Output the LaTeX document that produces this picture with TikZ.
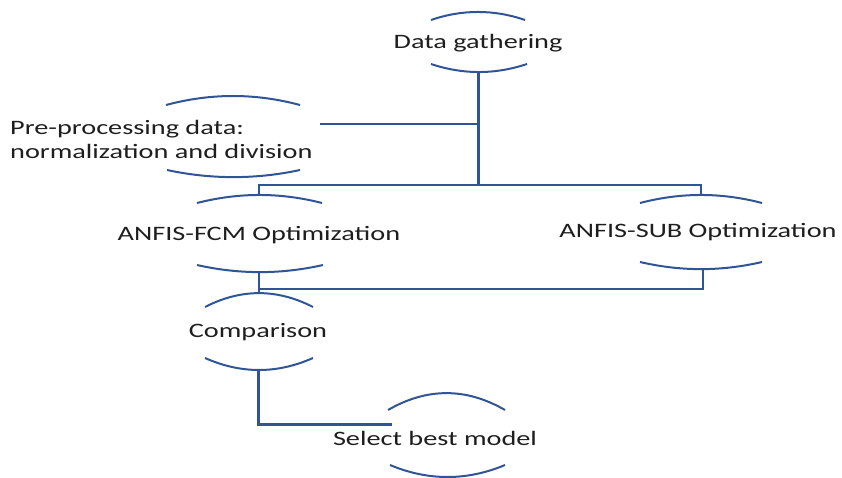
\documentclass[tikz,border=0pt]{standalone}
\usepackage{fontspec}
\newfontfamily\labfont[FakeStretch=1.38]{Carlito}
\definecolor{lineblue}{RGB}{47,85,151}
\definecolor{txt}{RGB}{30,30,30}
\begin{document}
\begin{tikzpicture}[x=1pt,y=-1pt,
  lbl/.style={inner sep=0pt,text=txt,font=\labfont\fontsize{20.5}{24}\selectfont},
  arcline/.style={draw=lineblue,line width=2pt},
  conn/.style={draw=lineblue,line width=2.2pt},
  trunk/.style={draw=lineblue,line width=3pt}]
\useasboundingbox (0,0) rectangle (842,478);
\clip (0,0) rectangle (842,478);
% nodes (text)
\node[lbl] (dg) at (478,43) {Data gathering};
\node[lbl,align=left,anchor=west] (pp) at (10,139) {Pre-processing data:\\ normalization and division};
\node[lbl] (fcm) at (259,235) {ANFIS-FCM Optimization};
\node[lbl] (sub) at (698,232) {ANFIS-SUB Optimization};
\node[lbl] (cmp) at (258,332) {Comparison};
\node[lbl] (sel) at (435,438) {Select best model};
% arcs (top: ends, apex above; bottom: ends, apex below)
% Data gathering
\draw[arcline] (431,20) .. controls +(31,-10.7) and +(-31,-10.7) .. (525,20);
\draw[arcline] (431,64) .. controls +(32,10.7) and +(-32,10.7) .. (527,64);
\coordinate (dgb) at (478,72);
% Pre-processing
\draw[arcline] (166,105) .. controls +(45,-12) and +(-45,-12) .. (300,105);
\draw[arcline] (167,170) .. controls +(44,9.5) and +(-44,9.5) .. (300,170);
\coordinate (ppr) at (320,124);
% ANFIS-FCM
\draw[arcline] (197,203) .. controls +(42,-10.7) and +(-42,-10.7) .. (322,203);
\draw[arcline] (197,265) .. controls +(42,9.5) and +(-42,9.5) .. (323,265);
\coordinate (fcmt) at (259,195);
\coordinate (fcmb) at (259,272);
% ANFIS-SUB
\draw[arcline] (640,203) .. controls +(41,-10.7) and +(-41,-10.7) .. (762,203);
\draw[arcline] (640,262) .. controls +(41,9.5) and +(-41,9.5) .. (762,262);
\coordinate (subt) at (701,195);
\coordinate (subb) at (703,269);
% Comparison
\draw[arcline] (205,307) .. controls +(36,-18.5) and +(-36,-18.5) .. (313,307);
\draw[arcline] (205,358) .. controls +(36,16) and +(-36,16) .. (313,358);
\coordinate (cmpt) at (259,293);
\coordinate (cmpb) at (258,370);
% Select best model
\draw[arcline] (388,410) .. controls +(39,-22.5) and +(-39,-22.5) .. (505,410);
\draw[arcline] (390,465) .. controls +(38,16) and +(-38,16) .. (505,465);
\coordinate (selw) at (392,424);
% connectors
\coordinate (bus) at (478,185);
\draw[trunk] (dgb) -- (bus);
\draw[conn] (ppr) -- (ppr -| bus);
\draw[conn] (fcmt) |- (bus) -| (subt);
\draw[conn] (fcmb) -- (cmpt);
\draw[conn] (subb) |- (259,289);
\draw[trunk] (cmpb) |- (selw);
\end{tikzpicture}
\end{document}
